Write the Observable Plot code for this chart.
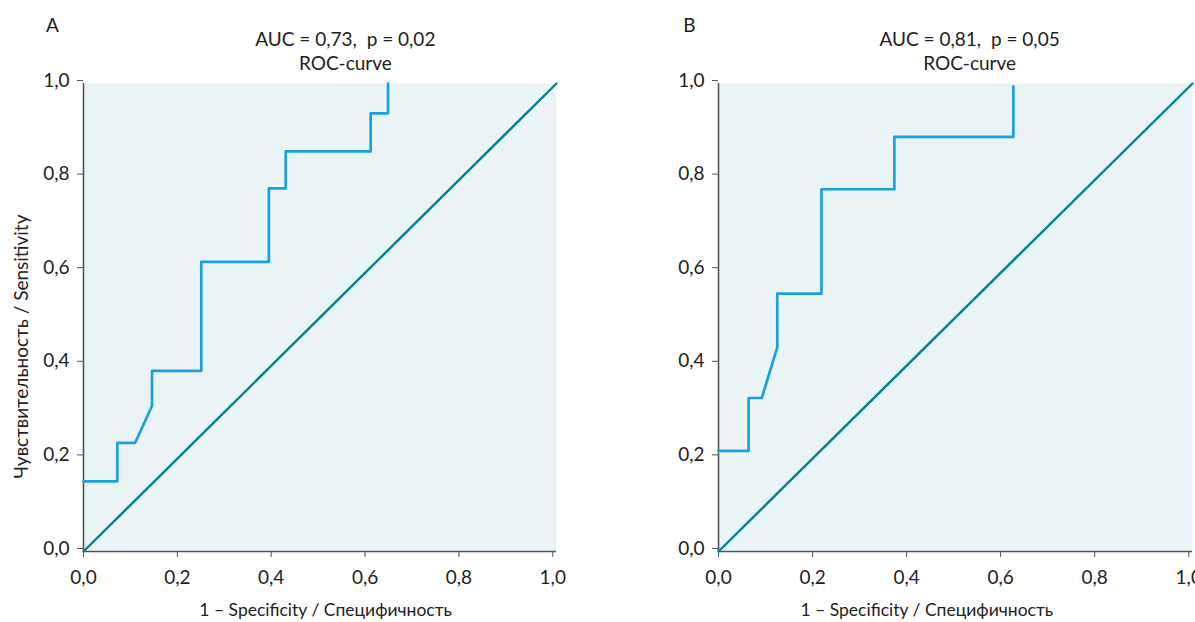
<!DOCTYPE html>
<html><head><meta charset="utf-8">
<script src="https://cdn.jsdelivr.net/npm/d3@7"></script>
<script src="https://cdn.jsdelivr.net/npm/@observablehq/plot@0.6"></script>
<style>
body{margin:0;background:#fff;overflow:hidden}
#wrap{display:flex;width:1195px;height:622px}
</style></head><body><div id="wrap"></div>
<script>
// ---- data ----
const panelLetters = ["A", "B"];
const titlesLine1 = ["AUC = 0,73,\u00a0 p = 0,02", "AUC = 0,81,\u00a0 p = 0,05"];
const titleLine2 = "ROC-curve";
const xAxisLabel = "1 – Specificity / Специфичность";
const yAxisLabel = "Чувствительность / Sensitivity";
const tickValues = [0, 0.2, 0.4, 0.6, 0.8, 1.0];

const rocA_fpr = [0, 0.072, 0.072, 0.110, 0.146, 0.146, 0.251, 0.251, 0.395, 0.395, 0.431, 0.431, 0.612, 0.612, 0.649, 0.649];
const rocA_tpr = [0.150, 0.150, 0.232, 0.232, 0.311, 0.386, 0.386, 0.619, 0.619, 0.776, 0.776, 0.855, 0.855, 0.936, 0.936, 1.0];

const rocB_fpr = [0, 0.064, 0.064, 0.092, 0.125, 0.125, 0.219, 0.219, 0.374, 0.374, 0.627, 0.627];
const rocB_tpr = [0.215, 0.215, 0.328, 0.328, 0.436, 0.551, 0.551, 0.774, 0.774, 0.886, 0.886, 0.994];

const chance_fpr = [0, 1.008];
const chance_tpr = [0, 1.0];

// ---- styles ----
const BG = "#eaf4f7";
const BLUE = "#1ba0df";
const TEAL = "#00838f";
const AXIS = "#555";
const fmt = d => d3.format(".1f")(d).replace(".", ",");

function toRows(xs, ys) { return xs.map((x, i) => ({x, y: ys[i]})); }

function panel(o) {
  const roc = toRows(o.fpr, o.tpr);
  const chance = toRows(chance_fpr, chance_tpr);
  const marks = [
    Plot.frame({fill: BG, stroke: "none"}),
    Plot.axisX({ticks: tickValues, tickFormat: fmt, tickSize: 6, tickPadding: 13, label: null, stroke: AXIS, fontSize: 19}),
    Plot.axisY({ticks: tickValues, tickFormat: fmt, tickSize: 6, tickPadding: 8, label: null, stroke: AXIS, fontSize: 19, dy: -3}),
    Plot.ruleX([0], {stroke: AXIS, strokeWidth: 1.6}),
    Plot.ruleY([0], {stroke: AXIS, strokeWidth: 1.6}),
    Plot.line(chance, {x: "x", y: "y", stroke: TEAL, strokeWidth: 2.4}),
    Plot.line(roc, {x: "x", y: "y", stroke: BLUE, strokeWidth: 2.7}),
    Plot.text([o.letter], {frameAnchor: "top-left", dx: o.letterDx, dy: -58, text: d => d, fontSize: 19, textAnchor: "middle", lineAnchor: "middle"}),
    Plot.text([o.title], {x: () => o.titleX, frameAnchor: "top", dy: -44, text: d => d, fontSize: 19, lineAnchor: "middle", textAnchor: "middle"}),
    Plot.text([titleLine2], {x: () => o.titleX, frameAnchor: "top", dy: -20, text: d => d, fontSize: 19, lineAnchor: "middle", textAnchor: "middle"}),
    Plot.text([xAxisLabel], {x: () => o.xLabelX, frameAnchor: "bottom", dy: 59, text: d => d, fontSize: 17.5, lineAnchor: "middle", textAnchor: "middle"})
  ];
  if (o.showY) {
    marks.push(Plot.text([yAxisLabel], {y: () => 0.438, frameAnchor: "left", dx: -62, rotate: -90, text: d => d, fontSize: 19, textAnchor: "middle", lineAnchor: "middle"}));
  }
  return Plot.plot({
    width: o.width, height: 622,
    marginTop: 83, marginBottom: 71, marginLeft: o.marginLeft, marginRight: o.marginRight,
    style: {fontFamily: "Lato, 'Open Sans', sans-serif", color: "#222", background: "transparent", overflow: "visible"},
    x: {domain: [0, 1.008]},
    y: {domain: [0, 1]},
    marks
  });
}

const wrap = document.getElementById("wrap");
wrap.append(panel({width: 597, marginLeft: 83, marginRight: 41, fpr: rocA_fpr, tpr: rocA_tpr,
  letter: panelLetters[0], letterDx: -31, title: titlesLine1[0], titleX: 0.558, xLabelX: 0.516, showY: true}));
wrap.append(panel({width: 598, marginLeft: 121, marginRight: 3, fpr: rocB_fpr, tpr: rocB_tpr,
  letter: panelLetters[1], letterDx: -29, title: titlesLine1[1], titleX: 0.534, xLabelX: 0.443, showY: false}));
</script></body></html>
